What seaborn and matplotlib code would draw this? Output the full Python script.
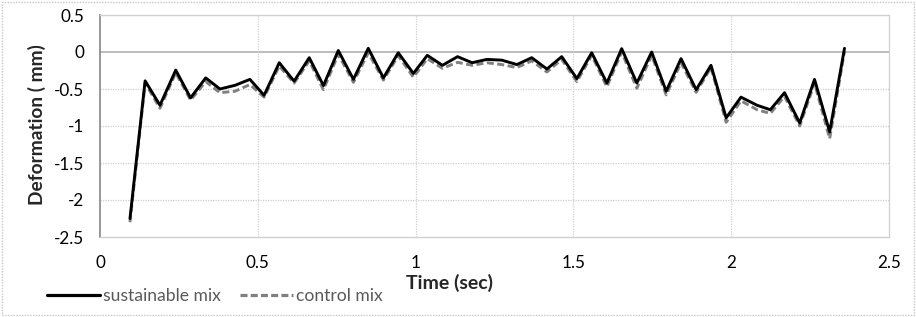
import matplotlib
matplotlib.use("Agg")
import matplotlib.pyplot as plt
import seaborn as sns
import pandas as pd
from matplotlib.patches import Rectangle
from matplotlib.lines import Line2D

time_sec = [0.095, 0.143, 0.19, 0.24, 0.287, 0.335, 0.38, 0.428, 0.475, 0.52,
            0.568, 0.615, 0.663, 0.708, 0.755, 0.803, 0.85, 0.898, 0.945, 0.993,
            1.037, 1.085, 1.133, 1.179, 1.226, 1.273, 1.321, 1.368, 1.416, 1.463,
            1.511, 1.558, 1.606, 1.653, 1.701, 1.748, 1.794, 1.841, 1.889, 1.936,
            1.984, 2.031, 2.082, 2.124, 2.169, 2.217, 2.264, 2.312, 2.359]

sustainable_mix = [-2.25, -0.39, -0.72, -0.245, -0.62, -0.35, -0.50, -0.45, -0.37, -0.585,
                   -0.145, -0.395, -0.077, -0.454, 0.02, -0.37, 0.05, -0.35, -0.01, -0.29,
                   -0.045, -0.18, -0.063, -0.145, -0.10, -0.11, -0.17, -0.077, -0.23, -0.063,
                   -0.36, -0.01, -0.42, 0.045, -0.42, 0.0, -0.53, -0.09, -0.51, -0.18,
                   -0.89, -0.61, -0.72, -0.78, -0.55, -0.96, -0.37, -1.08, 0.05]

control_mix = [-2.30, -0.42, -0.76, -0.28, -0.65, -0.40, -0.55, -0.53, -0.44, -0.61,
               -0.19, -0.42, -0.12, -0.51, -0.03, -0.41, -0.01, -0.38, -0.05, -0.34,
               -0.09, -0.22, -0.14, -0.18, -0.145, -0.17, -0.21, -0.12, -0.27, -0.10,
               -0.40, -0.045, -0.47, 0.0, -0.49, -0.045, -0.58, -0.145, -0.545, -0.21,
               -0.95, -0.66, -0.78, -0.83, -0.60, -1.00, -0.42, -1.17, 0.01]

x_ticks = [0, 0.5, 1, 1.5, 2, 2.5]
x_tick_labels = ["0", "0.5", "1", "1.5", "2", "2.5"]
y_ticks = [0.5, 0, -0.5, -1, -1.5, -2, -2.5]
y_tick_labels = ["0.5", "0", "-0.5", "-1", "-1.5", "-2", "-2.5"]

sns.set_style("white")
plt.rcParams['font.family'] = ['Lato', 'DejaVu Sans']

fig = plt.figure(figsize=(9.16, 3.17), dpi=100)
ax = fig.add_axes([100/916, 1-237/317, (889-100)/916, (237-15)/317])

df = pd.DataFrame({"t": time_sec, "s": sustainable_mix, "c": control_mix})
sns.lineplot(data=df, x="t", y="c", ax=ax, color="#808080", lw=2.1,
             linestyle=(0, (2.4, 1.2)), zorder=3, sort=False)
sns.lineplot(data=df, x="t", y="s", ax=ax, color="black", lw=2.1, zorder=4, sort=False)

ax.set_xlim(0, 2.5)
ax.set_ylim(-2.5, 0.5)
ax.set_xticks(x_ticks)
ax.set_xticklabels(x_tick_labels)
ax.set_yticks(y_ticks)
ax.set_yticklabels(y_tick_labels)
ax.tick_params(axis='both', length=0, labelsize=12.3, colors="black")
ax.tick_params(axis='x', pad=13)
ax.tick_params(axis='y', pad=11.5)

for yv in [-0.5, -1, -1.5, -2]:
    ax.axhline(yv, color="#d0d0d0", lw=0.9, linestyle=(0, (1, 1)), zorder=1)
ax.axhline(0, color="#b0b0b0", lw=1.2, zorder=1)
for xv in [0.5, 1, 1.5, 2]:
    ax.axvline(xv, color="#d0d0d0", lw=0.9, linestyle=(0, (1, 1)), zorder=1)

for side in ["top", "bottom"]:
    ax.spines[side].set_color("#d0d0d0")
    ax.spines[side].set_linewidth(1.0)
ax.spines["right"].set_color("#d0d0d0")
ax.spines["right"].set_linestyle((0, (1, 1)))
ax.spines["right"].set_linewidth(0.9)
ax.spines["left"].set_color("#868686")
ax.spines["left"].set_linewidth(1.2)

ax.set_xlabel("")
ax.set_ylabel("")
fig.text(450/916, 1-283/317, "Time (sec)", ha="center", va="center",
         fontsize=14, fontweight="bold")
fig.text(37/916, 1-125/317, "Deformation ( mm)", ha="center", va="center",
         rotation=90, fontsize=13.8, fontweight="bold")

handles = [Line2D([0], [0], color="black", lw=2.3),
           Line2D([0], [0], color="#808080", lw=2.3, linestyle=(0, (2.2, 1.0)))]
leg = fig.legend(handles, ["sustainable mix", "control mix"], loc="center left",
                 bbox_to_anchor=(47/916, 1-296/317), ncol=2, frameon=False,
                 fontsize=12.6, handlelength=3.0, handletextpad=0.2, columnspacing=1.1,
                 borderpad=0.0, borderaxespad=0.0)
for t in leg.get_texts():
    t.set_color("#595959")

fig.patches.append(Rectangle((2/916, 2/317), 912/916, 313/317, transform=fig.transFigure,
                             fill=False, edgecolor="#c8c8c8", lw=1.0, linestyle=(0, (1, 1))))

fig.savefig("out.png", dpi=100)
